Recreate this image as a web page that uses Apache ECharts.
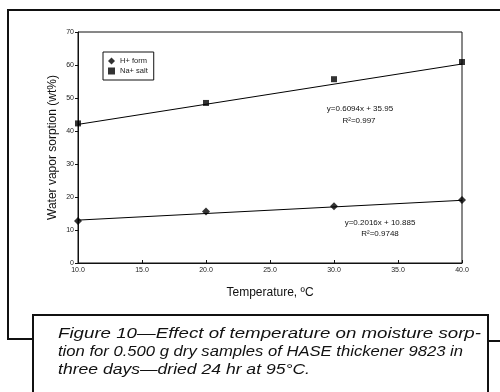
<!DOCTYPE html>
<html><head><meta charset="utf-8">
<script src="https://cdn.jsdelivr.net/npm/echarts@6/dist/echarts.min.js"></script>
<style>html,body{margin:0;padding:0;background:#fff}#c{width:500px;height:392px}</style>
</head><body><div id="c"></div>
<script>
const temps = [10, 20, 30, 40];
const hForm = [12.7, 15.6, 17.2, 19.1];
const naSalt = [42.3, 48.5, 55.7, 60.9];
const trendX = [10, 40];
const hTrend = [13.0, 19.0];
const naTrend = [42.0, 60.3];
const xTicks = ['10.0','15.0','20.0','25.0','30.0','35.0','40.0'];
const captionLines = [
  'Figure 10\u2014Effect of temperature on moisture sorp-',
  'tion for 0.500 g dry samples of HASE thickener 9823 in',
  'three days\u2014dried 24 hr at 95\u00b0C.'
];
const eqNa = ['y=0.6094x + 35.95', 'R\u00b2=0.997'];
const eqH = ['y=0.2016x + 10.885', 'R\u00b2=0.9748'];

const capFont = 'italic 15px Liberation Sans';
const capWidths = [423, 405, 252];
const ctx = document.createElement('canvas').getContext('2d');
ctx.font = capFont;
const capScale = captionLines.map((s,i)=>capWidths[i]/ctx.measureText(s).width);

const chart = echarts.init(document.getElementById('c'));
const lblFont = {fontFamily:'Liberation Sans, Arial, sans-serif', fontSize:7, color:'#222'};
chart.setOption({
  animation:false,
  backgroundColor:'#fff',
  grid:{left:78, right:38, top:32, bottom:129, show:true, borderColor:'#111', borderWidth:1},
  xAxis:{type:'value', min:10, max:40, interval:5,
    name:'Temperature, \u00baC', nameLocation:'middle', nameGap:24,
    nameTextStyle:{fontFamily:'Liberation Sans, Arial', fontSize:12, color:'#111'},
    axisLine:{lineStyle:{color:'#111'}}, splitLine:{show:false},
    axisTick:{inside:true, length:3, lineStyle:{color:'#111'}},
    axisLabel:Object.assign({margin:4, formatter:v=>xTicks[(v-10)/5]}, lblFont)},
  yAxis:{type:'value', min:0, max:70, interval:10,
    name:'Water vapor sorption (wt%)', nameLocation:'middle', nameGap:19, nameMoveOverlap:false,
    nameTextStyle:{fontFamily:'Liberation Sans, Arial', fontSize:12, color:'#111'},
    axisLine:{show:true, lineStyle:{color:'#111'}}, splitLine:{show:false},
    axisTick:{show:true, length:3, lineStyle:{color:'#111'}},
    axisLabel:Object.assign({margin:4}, lblFont)},
  legend:{orient:'vertical', left:103, top:52, data:['H+ form','Na+ salt'],
    borderColor:'#111', borderWidth:1, padding:[5,6,5,5], itemGap:2,
    itemWidth:7, itemHeight:7, textStyle:Object.assign({}, lblFont, {fontSize:7.5})},
  series:[
    {name:'H+ form', type:'scatter', symbol:'diamond', symbolSize:8, itemStyle:{color:'#000'},
      data:temps.map((t,i)=>[t,hForm[i]]), z:5},
    {name:'Na+ salt', type:'scatter', symbol:'rect', symbolSize:6, itemStyle:{color:'#000'},
      data:temps.map((t,i)=>[t,naSalt[i]]), z:5},
    {name:'hTrend', type:'line', showSymbol:false, lineStyle:{color:'#000', width:1},
      data:trendX.map((t,i)=>[t,hTrend[i]])},
    {name:'naTrend', type:'line', showSymbol:false, lineStyle:{color:'#000', width:1},
      data:trendX.map((t,i)=>[t,naTrend[i]])}
  ],
  graphic:[
    {type:'polyline', shape:{points:[[33,339],[8,339],[8,10],[502,10]]}, style:{stroke:'#111', lineWidth:2, fill:null}},
    {type:'line', shape:{x1:488, y1:341, x2:502, y2:341}, style:{stroke:'#111', lineWidth:2}},
    {type:'rect', shape:{x:33, y:315, width:455, height:90}, style:{stroke:'#111', lineWidth:2, fill:'#fff'}},
    {type:'text', x:58, y:334, scaleX:capScale[0], style:{text:captionLines[0], verticalAlign:'middle', font:capFont, fill:'#111'}},
    {type:'text', x:58, y:352, scaleX:capScale[1], style:{text:captionLines[1], verticalAlign:'middle', font:capFont, fill:'#111'}},
    {type:'text', x:58, y:370, scaleX:capScale[2], style:{text:captionLines[2], verticalAlign:'middle', font:capFont, fill:'#111'}},
    {type:'text', x:360, y:109, style:{text:eqNa[0], align:'center', verticalAlign:'middle', font:'8px Liberation Sans', fill:'#111'}},
    {type:'text', x:359, y:121, style:{text:eqNa[1], align:'center', verticalAlign:'middle', font:'8px Liberation Sans', fill:'#111'}},
    {type:'text', x:380, y:223, style:{text:eqH[0], align:'center', verticalAlign:'middle', font:'8px Liberation Sans', fill:'#111'}},
    {type:'text', x:380, y:234, style:{text:eqH[1], align:'center', verticalAlign:'middle', font:'8px Liberation Sans', fill:'#111'}}
  ]
});
</script></body></html>
